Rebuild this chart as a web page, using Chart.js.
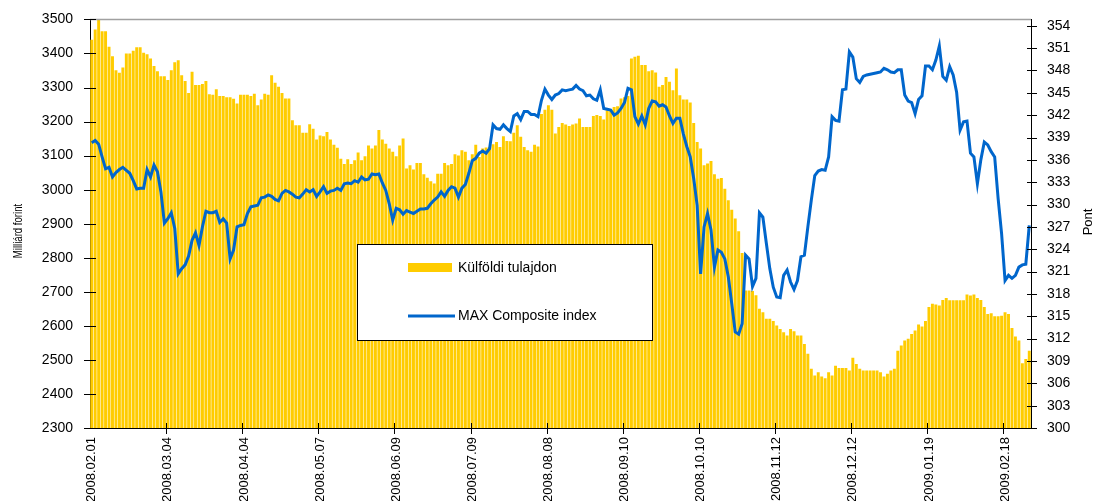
<!DOCTYPE html>
<html>
<head>
<meta charset="utf-8">
<script src="https://cdn.jsdelivr.net/npm/chart.js@4.4.1/dist/chart.umd.min.js"></script>
<style>
  html, body { margin: 0; padding: 0; background: #fff; }
</style>
</head>
<body>
<canvas id="grafico" width="1094" height="501"></canvas>
<script>
// feliratok 22 kereskedési naponként
const tickDates = ['2008.02.01', '2008.03.04', '2008.04.04', '2008.05.07', '2008.06.09', '2008.07.09',
  '2008.08.08', '2008.09.10', '2008.10.10', '2008.11.12', '2008.12.12', '2009.01.19', '2009.02.18'];
const labelStep = 22;

// Külföldi tulajdon (milliárd forint)
const kulfoldi = [
  3440, 3470, 3500, 3465, 3465, 3420, 3392, 3351, 3343, 3359, 3400, 3400, 3408, 3418, 3418, 3402, 3398, 3385, 3363, 3348, 3333, 3333, 3322, 3351, 3374, 3380,
  3336, 3319, 3284, 3346, 3307, 3307, 3310, 3319, 3280, 3279, 3295, 3275, 3275, 3271, 3271, 3267, 3253, 3279, 3279, 3279, 3275, 3282, 3248, 3265, 3282, 3279,
  3336, 3314, 3302, 3284, 3268, 3268, 3204, 3189, 3189, 3167, 3167, 3192, 3179, 3147, 3159, 3157, 3169, 3147, 3132, 3123, 3091, 3075, 3089, 3075, 3086, 3109,
  3086, 3098, 3130, 3121, 3130, 3175, 3147, 3135, 3121, 3111, 3098, 3130, 3150, 3062, 3072, 3059, 3078, 3078, 3045, 3035, 3025, 3018, 3047, 3047, 3078, 3072,
  3075, 3104, 3100, 3116, 3111, 3086, 3104, 3132, 3096, 3121, 3124, 3125, 3133, 3140, 3125, 3157, 3143, 3142, 3167, 3189, 3155, 3125, 3116, 3111, 3132, 3127,
  3222, 3235, 3248, 3235, 3165, 3184, 3196, 3191, 3187, 3191, 3194, 3209, 3184, 3184, 3184, 3216, 3219, 3216, 3206, 3233, 3235, 3243, 3245, 3268, 3271, 3275,
  3385, 3390, 3393, 3366, 3366, 3348, 3351, 3344, 3302, 3307, 3331, 3317, 3292, 3356, 3277, 3265, 3265, 3256, 3196, 3140, 3121, 3072, 3077, 3084, 3045, 3032,
  3034, 3003, 2969, 2941, 2915, 2878, 2814, 2704, 2704, 2702, 2690, 2650, 2640, 2621, 2621, 2614, 2601, 2591, 2581, 2572, 2591, 2584, 2572, 2572, 2547, 2518,
  2474, 2454, 2464, 2451, 2446, 2464, 2454, 2483, 2476, 2476, 2476, 2469, 2506, 2488, 2474, 2469, 2469, 2469, 2469, 2469, 2464, 2451, 2459, 2469, 2474, 2527,
  2542, 2557, 2562, 2576, 2586, 2604, 2598, 2614, 2655, 2665, 2663, 2660, 2676, 2682, 2675, 2675, 2675, 2675, 2675, 2692, 2689, 2692, 2682, 2676, 2655, 2635,
  2637, 2628, 2628, 2630, 2640, 2635, 2594, 2569, 2557, 2490, 2503, 2527
];

// MAX Composite index (pont)
const maxIndex = [
  338.3, 338.6, 338.1, 336.4, 334.8, 335.0, 333.7, 334.3, 334.7, 335.0, 334.6, 334.2, 333.2, 332.1, 332.2, 332.2, 334.7, 333.7, 335.3, 334.4, 331.7, 327.5, 328.1, 328.9, 326.8, 320.7,
  321.4, 321.9, 323.1, 325.2, 326.2, 324.5, 327.0, 329.1, 328.9, 328.9, 329.1, 327.6, 328.1, 327.5, 322.7, 323.9, 327.0, 327.2, 327.3, 328.8, 329.7, 329.8, 329.9, 330.9, 331.0, 331.3,
  331.1, 330.7, 330.5, 331.5, 331.9, 331.7, 331.4, 331.0, 330.9, 331.4, 332.0, 331.7, 332.0, 331.1, 331.7, 332.4, 331.5, 331.8, 331.9, 332.2, 331.9, 332.8, 332.9, 332.8, 333.2, 333.0,
  333.7, 333.3, 333.4, 334.1, 334.0, 334.1, 332.9, 331.9, 330.1, 327.9, 329.5, 329.3, 328.7, 329.2, 329.0, 328.8, 329.1, 329.4, 329.4, 329.5, 330.1, 330.6, 331.0, 331.7, 331.1, 331.9,
  332.4, 332.2, 331.0, 332.2, 332.7, 334.2, 335.9, 336.2, 336.9, 337.2, 336.9, 337.5, 340.7, 340.2, 340.1, 340.7, 340.2, 339.8, 341.9, 342.2, 341.4, 342.5, 342.5, 342.1, 342.1, 341.8,
  344.0, 345.5, 344.7, 344.1, 344.7, 344.9, 345.4, 345.3, 345.4, 345.5, 346.0, 345.5, 345.3, 344.6, 344.7, 344.2, 344.0, 345.4, 342.9, 342.8, 342.7, 342.0, 342.3, 342.9, 343.7, 345.6,
  345.4, 341.8, 340.8, 341.9, 340.7, 342.9, 343.9, 343.8, 343.2, 343.4, 343.1, 341.9, 340.9, 341.6, 341.6, 339.5, 337.8, 336.4, 333.5, 329.9, 320.7, 327.0, 328.8, 326.6, 321.6, 323.9,
  323.6, 322.7, 320.3, 316.7, 312.9, 312.6, 314.0, 323.2, 322.7, 319.0, 320.1, 328.9, 328.3, 324.8, 321.4, 318.9, 317.6, 317.5, 320.5, 321.2, 319.6, 318.6, 319.8, 323.0, 323.2, 327.0,
  330.6, 333.9, 334.5, 334.7, 334.6, 336.4, 341.8, 341.3, 341.2, 345.4, 345.5, 350.5, 349.8, 346.9, 346.4, 347.2, 347.4, 347.5, 347.6, 347.7, 347.8, 348.3, 348.1, 347.8, 347.7, 348.1,
  348.1, 344.7, 343.9, 343.7, 342.2, 344.1, 344.6, 348.6, 348.6, 348.1, 349.4, 351.3, 347.2, 346.7, 348.5, 347.4, 345.1, 340.0, 341.1, 341.2, 336.9, 336.4, 332.8, 336.0, 338.4, 338.0,
  337.1, 336.4, 330.8, 326.1, 319.8, 320.5, 320.1, 320.5, 321.6, 321.9, 322.0, 327.2
];

const rightTicks = [300, 303, 306, 309, 312, 315, 318, 321, 324, 327, 330, 333, 336, 339, 342, 345, 348, 351, 354];

const sans = "'Liberation Sans', Arial, sans-serif";

const labels = kulfoldi.map((v, i) => i % labelStep === 0 ? tickDates[i / labelStep] : '');

// tengely jelek, keret, jelmagyarázat, tengelycímek
const decor = {
  id: 'decor',
  afterDatasetsDraw(chart) {
    const ctx = chart.ctx;
    const a = chart.chartArea;
    const x = chart.scales.x, y = chart.scales.y, y1 = chart.scales.y1;
    ctx.save();
    // felső szürke vonal
    ctx.strokeStyle = '#a0a0a0';
    ctx.lineWidth = 1.5;
    ctx.beginPath(); ctx.moveTo(a.left, a.top); ctx.lineTo(a.right, a.top); ctx.stroke();

    ctx.strokeStyle = '#000';
    ctx.lineWidth = 1;
    ctx.beginPath();
    y.ticks.forEach(t => {
      const py = Math.round(y.getPixelForValue(t.value)) + 0.5;
      ctx.moveTo(a.left - 6, py); ctx.lineTo(a.left + 6, py);
    });
    y1.ticks.forEach(t => {
      const py = Math.round(y1.getPixelForValue(t.value)) + 0.5;
      ctx.moveTo(a.right - 4, py); ctx.lineTo(a.right + 6, py);
    });
    const w = (a.right - a.left) / labels.length;
    labels.forEach((l, i) => {
      if (i % labelStep !== 0 || i === 0) return;
      const px = Math.round(x.getPixelForValue(i) - w / 2) + 0.5;
      ctx.moveTo(px, a.bottom - 5); ctx.lineTo(px, a.bottom + 6);
    });
    ctx.stroke();

    // jelmagyarázat
    ctx.fillStyle = '#fff';
    ctx.fillRect(357, 244, 295, 96);
    ctx.strokeStyle = '#000';
    ctx.strokeRect(357.5, 244.5, 295, 96);
    const ds = chart.data.datasets;
    ctx.fillStyle = ds[0].backgroundColor;
    ctx.fillRect(408, 263, 44, 9);
    ctx.strokeStyle = ds[1].borderColor;
    ctx.lineWidth = 3;
    ctx.beginPath(); ctx.moveTo(408, 316); ctx.lineTo(455, 316); ctx.stroke();
    ctx.fillStyle = '#000';
    ctx.font = '14px ' + sans;
    ctx.textBaseline = 'middle';
    ctx.fillText(ds[0].label, 458, 268);
    ctx.fillText(ds[1].label, 458, 316);

    // tengelycímek (a bal oldali keskenyített betűvel)
    ctx.save();
    ctx.translate(22, 231);
    ctx.rotate(-Math.PI / 2);
    ctx.scale(0.8, 1);
    ctx.textAlign = 'center';
    ctx.textBaseline = 'alphabetic';
    ctx.font = '12px ' + sans;
    ctx.fillText('Milliárd forint', 0, 0);
    ctx.restore();
    ctx.save();
    ctx.translate(1092, 222);
    ctx.rotate(-Math.PI / 2);
    ctx.textAlign = 'center';
    ctx.textBaseline = 'alphabetic';
    ctx.font = '13px ' + sans;
    ctx.fillText('Pont', 0, 0);
    ctx.restore();
    ctx.restore();
  }
};

new Chart(document.getElementById('grafico'), {
  data: {
    labels: labels,
    datasets: [
      {
        type: 'bar',
        label: 'Külföldi tulajdon',
        data: kulfoldi,
        yAxisID: 'y',
        backgroundColor: '#ffcc00',
        barPercentage: 0.85,
        categoryPercentage: 1.0,
        order: 1
      },
      {
        type: 'line',
        label: 'MAX Composite index',
        data: maxIndex,
        yAxisID: 'y1',
        borderColor: '#0066cc',
        borderWidth: 3,
        pointRadius: 0,
        tension: 0,
        order: 0
      }
    ]
  },
  options: {
    responsive: false,
    animation: false,
    layout: { padding: { top: 19 } },
    plugins: { legend: { display: false }, tooltip: { enabled: false } },
    scales: {
      x: {
        type: 'category',
        offset: true,
        grid: { display: false, drawTicks: true, tickLength: 6, offset: true },
        border: { display: true, color: '#000', width: 1 },
        ticks: {
          autoSkip: false, maxRotation: 90, minRotation: 90, padding: 3,
          color: '#000', font: { family: sans, size: 13 }
        },
        afterFit: s => { s.height = 73; }
      },
      y: {
        position: 'left',
        min: 2300, max: 3500,
        grid: { display: false, drawTicks: true, tickLength: 6 },
        border: { display: true, color: '#000', width: 1 },
        ticks: {
          stepSize: 100, padding: 11, color: '#000', font: { family: sans, size: 14 },
          callback: v => String(v)
        },
        afterFit: s => { s.width = 90; }
      },
      y1: {
        position: 'right',
        min: 300, max: 354.86,
        grid: { display: false, drawTicks: true, tickLength: 6 },
        border: { display: true, color: '#000', width: 1 },
        afterBuildTicks: s => { s.ticks = rightTicks.map(v => ({ value: v })); },
        ticks: { padding: 10, color: '#000', font: { family: sans, size: 14 } },
        afterFit: s => { s.width = 63; }
      }
    }
  },
  plugins: [decor]
});
</script>
</body>
</html>
